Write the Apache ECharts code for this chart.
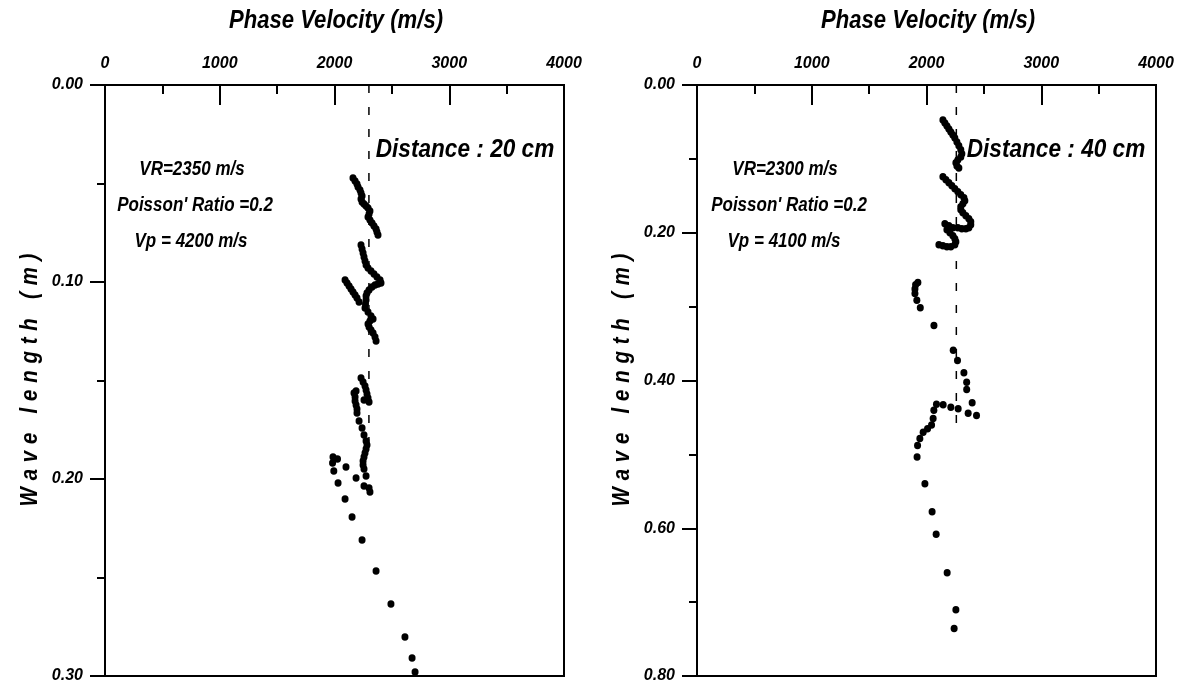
<!DOCTYPE html>
<html>
<head>
<meta charset="utf-8">
<script src="https://cdn.jsdelivr.net/npm/echarts@6/dist/echarts.min.js"></script>
<style>
html,body{margin:0;padding:0;background:#fff;}
#c{width:1178px;height:684px;}
</style>
</head>
<body>
<div id="c"></div>
<script>
// ---- Data ----
const xTicks = [0, 1000, 2000, 3000, 4000];
const leftYTicks = [0.00, 0.10, 0.20, 0.30];
const rightYTicks = [0.00, 0.20, 0.40, 0.60, 0.80];

// Left panel (Distance : 20 cm) - phase velocity (m/s) and wave length (m)
const leftVel = [
  2161,2179,2196,2205,2222,2231,2240,2231,2240,2257,2275,2292,2309,2301,2292,2309,2327,2344,2362,2370,2379,
  2231,2240,2249,2257,2266,2275,2292,2318,2344,2370,2397,2405,2379,2353,2327,2301,2283,2275,
  2092,2109,2127,2144,2161,2179,2196,2214,
  2275,2270,2266,2292,2318,2336,2309,2292,2301,2318,2336,2353,2362,
  2231,2249,2266,2275,2283,2292,2301,2257,
  2188,2170,2179,2179,2188,2196,2196,2214,2240,2257,2275,2283,2275,2266,2257,2249,2249,2257,2275,
  2257,2301,2309,2188,2100,1987,2026,1983,1994,2031,2092,2153,2240,2362,2492,2614,2676,2702
];
const leftWl = [
  0.0472,0.0487,0.0503,0.0518,0.0533,0.0548,0.0563,0.0579,0.0594,0.0604,0.0614,0.0624,0.0640,0.0655,0.0670,0.0685,0.0700,0.0716,0.0731,0.0746,0.0761,
  0.0812,0.0833,0.0853,0.0873,0.0893,0.0914,0.0929,0.0944,0.0959,0.0975,0.0990,0.1005,0.1010,0.1015,0.1025,0.1041,0.1056,0.1071,
  0.0990,0.1005,0.1020,0.1036,0.1051,0.1066,0.1081,0.1102,
  0.1092,0.1112,0.1132,0.1152,0.1173,0.1188,0.1198,0.1213,0.1228,0.1244,0.1259,0.1279,0.1299,
  0.1487,0.1508,0.1528,0.1548,0.1568,0.1589,0.1609,0.1599,
  0.1553,0.1563,0.1584,0.1604,0.1624,0.1645,0.1665,0.1706,0.1741,0.1777,0.1807,0.1827,0.1848,0.1868,0.1888,0.1909,0.1929,0.1949,0.1985,
  0.2035,0.2046,0.2066,0.1995,0.1939,0.1888,0.1898,0.1919,0.1959,0.2020,0.2101,0.2193,0.2310,0.2467,0.2634,0.2802,0.2909,0.2980
];

// Right panel (Distance : 40 cm)
const rightVel = [
  2143,2160,2178,2195,2212,2230,2247,2265,2282,2299,2308,2299,2273,2256,2265,2282,
  2143,2169,2195,2221,2247,2273,2299,2326,2334,2317,2299,2299,2317,2343,2369,2386,2386,2369,2343,2308,2273,
  2160,2195,2230,
  2178,2204,2230,2247,2256,2247,2212,2178,2143,2108,
  1925,1905,1899,1899,1916,1946,2065,2233,2270,2326,2350,2350,2398,2363,2436,2276,2212,2145,2087,2064,2058,2044,2009,1971,1942,1922,1918,
  1986,2049,2084,2180,2256,2241
];
const rightWl = [
  0.0473,0.0514,0.0554,0.0595,0.0635,0.0676,0.0716,0.0770,0.0824,0.0878,0.0932,0.0973,0.1014,0.1054,0.1095,0.1122,
  0.1243,0.1284,0.1324,0.1365,0.1405,0.1446,0.1487,0.1527,0.1568,0.1608,0.1649,0.1689,0.1730,0.1770,0.1811,0.1851,0.1892,0.1932,0.1946,0.1946,0.1932,
  0.1878,0.1905,0.1932,
  0.1959,0.2000,0.2041,0.2081,0.2122,0.2162,0.2189,0.2189,0.2176,0.2162,
  0.2672,0.2703,0.2761,0.2824,0.2915,0.3014,0.3257,0.3591,0.3730,0.3896,0.4023,0.4122,0.4302,0.4442,0.4473,0.4383,0.4361,0.4329,0.4321,0.4402,0.4514,0.4604,0.4653,0.4699,0.4784,0.4879,0.5034,
  0.5396,0.5775,0.6081,0.6604,0.7104,0.7356
];

// Reference (VR) dashed lines: [velocity, velocity], [wl start, wl end]
const leftRefVel = [2300, 2300];
const leftRefWl = [0.0, 0.185];
const rightRefVel = [2260, 2260];
const rightRefWl = [0.0, 0.465];

const leftNotes = ["VR=2350 m/s", "Poisson' Ratio =0.2", "Vp = 4200 m/s"];
const rightNotes = ["VR=2300 m/s", "Poisson' Ratio =0.2", "Vp = 4100 m/s"];
const leftDistance = "Distance : 20 cm";
const rightDistance = "Distance : 40 cm";
const xTitle = "Phase Velocity (m/s)";
const yTitle = "Wave length (m)";

// ---- Chart ----
const FONT = "'Liberation Sans',Arial,sans-serif";
const zip = (a, b) => a.map((v, i) => [v, b[i]]);

function xAxisCfg(gi) {
  return {
    gridIndex: gi, type: 'value', position: 'top',
    min: xTicks[0], max: xTicks[xTicks.length - 1], interval: xTicks[1] - xTicks[0],
    axisLine: { show: true, lineStyle: { color: '#000', width: 2 } },
    axisTick: { show: true, inside: true, length: 20, lineStyle: { color: '#000', width: 2 } },
    minorTick: { show: true, splitNumber: 2, length: 9, lineStyle: { color: '#000', width: 2 } },
    splitLine: { show: false },
    axisLabel: { show: true, margin: 13, color: '#000', fontFamily: FONT, fontSize: 16,
      fontStyle: 'italic', fontWeight: 'bold', formatter: v => String(Math.round(v)),
      showMinLabel: true, showMaxLabel: true, hideOverlap: false }
  };
}
function yAxisCfg(gi, ticks) {
  return {
    gridIndex: gi, type: 'value', inverse: true,
    min: ticks[0], max: ticks[ticks.length - 1], interval: ticks[1] - ticks[0],
    axisLine: { show: true, lineStyle: { color: '#000', width: 2 } },
    axisTick: { show: true, inside: false, length: 15, lineStyle: { color: '#000', width: 2 } },
    minorTick: { show: true, splitNumber: 2, length: 8, lineStyle: { color: '#000', width: 2 } },
    splitLine: { show: false },
    axisLabel: { show: true, margin: 22, color: '#000', fontFamily: FONT, fontSize: 16,
      fontStyle: 'italic', fontWeight: 'bold', formatter: v => Number(v).toFixed(2),
      showMinLabel: true, showMaxLabel: true, hideOverlap: false }
  };
}
function scatter(xi, vel, wl) {
  return { type: 'scatter', xAxisIndex: xi, yAxisIndex: xi, data: zip(vel, wl),
    symbol: 'circle', symbolSize: [7, 7.5], itemStyle: { color: '#000', opacity: 1 }, silent: true, animation: false, z: 3 };
}
function refLine(xi, vel, wl) {
  return { type: 'line', xAxisIndex: xi, yAxisIndex: xi, data: zip(vel, wl), symbol: 'none',
    lineStyle: { color: '#000', width: 1.5, type: [8, 14] }, silent: true, animation: false, z: 1 };
}
function txt(x, y, text, size, sx, rot) {
  return { type: 'text', x: x, y: y, rotation: rot || 0, scaleX: sx, scaleY: 1, silent: true,
    style: { text: text, fill: '#000', font: 'italic bold ' + size + 'px ' + FONT,
      align: 'center', verticalAlign: 'middle', textAlign: 'center', textVerticalAlign: 'middle' } };
}
const spaced = s => s.split('').join('\u2004');

const grids = [
  { left: 105, top: 85, width: 459, height: 591 },
  { left: 697, top: 85, width: 459, height: 592 }
];

const option = {
  backgroundColor: '#fff',
  animation: false,
  grid: grids.map(g => Object.assign({ show: true, borderColor: '#000', borderWidth: 2, backgroundColor: 'transparent' }, g)),
  xAxis: [xAxisCfg(0), xAxisCfg(1)],
  yAxis: [yAxisCfg(0, leftYTicks), yAxisCfg(1, rightYTicks)],
  series: [
    refLine(0, leftRefVel, leftRefWl),
    refLine(1, rightRefVel, rightRefWl),
    scatter(0, leftVel, leftWl),
    scatter(1, rightVel, rightWl)
  ],
  graphic: [
    txt(336, 21, xTitle, 26, 0.85),
    txt(928, 21, xTitle, 26, 0.85),
    txt(30, 380, spaced(yTitle), 24, 0.85, Math.PI / 2),
    txt(622, 380, spaced(yTitle), 24, 0.85, Math.PI / 2),
    txt(192, 169, leftNotes[0], 20, 0.85),
    txt(195, 205, leftNotes[1], 20, 0.85),
    txt(191, 241, leftNotes[2], 20, 0.85),
    txt(465, 150, leftDistance, 26, 0.87),
    txt(785, 169, rightNotes[0], 20, 0.85),
    txt(789, 205, rightNotes[1], 20, 0.85),
    txt(784, 241, rightNotes[2], 20, 0.85),
    txt(1056, 150, rightDistance, 26, 0.87)
  ]
};
echarts.init(document.getElementById('c'), null, { renderer: 'canvas' }).setOption(option);
</script>
</body>
</html>
